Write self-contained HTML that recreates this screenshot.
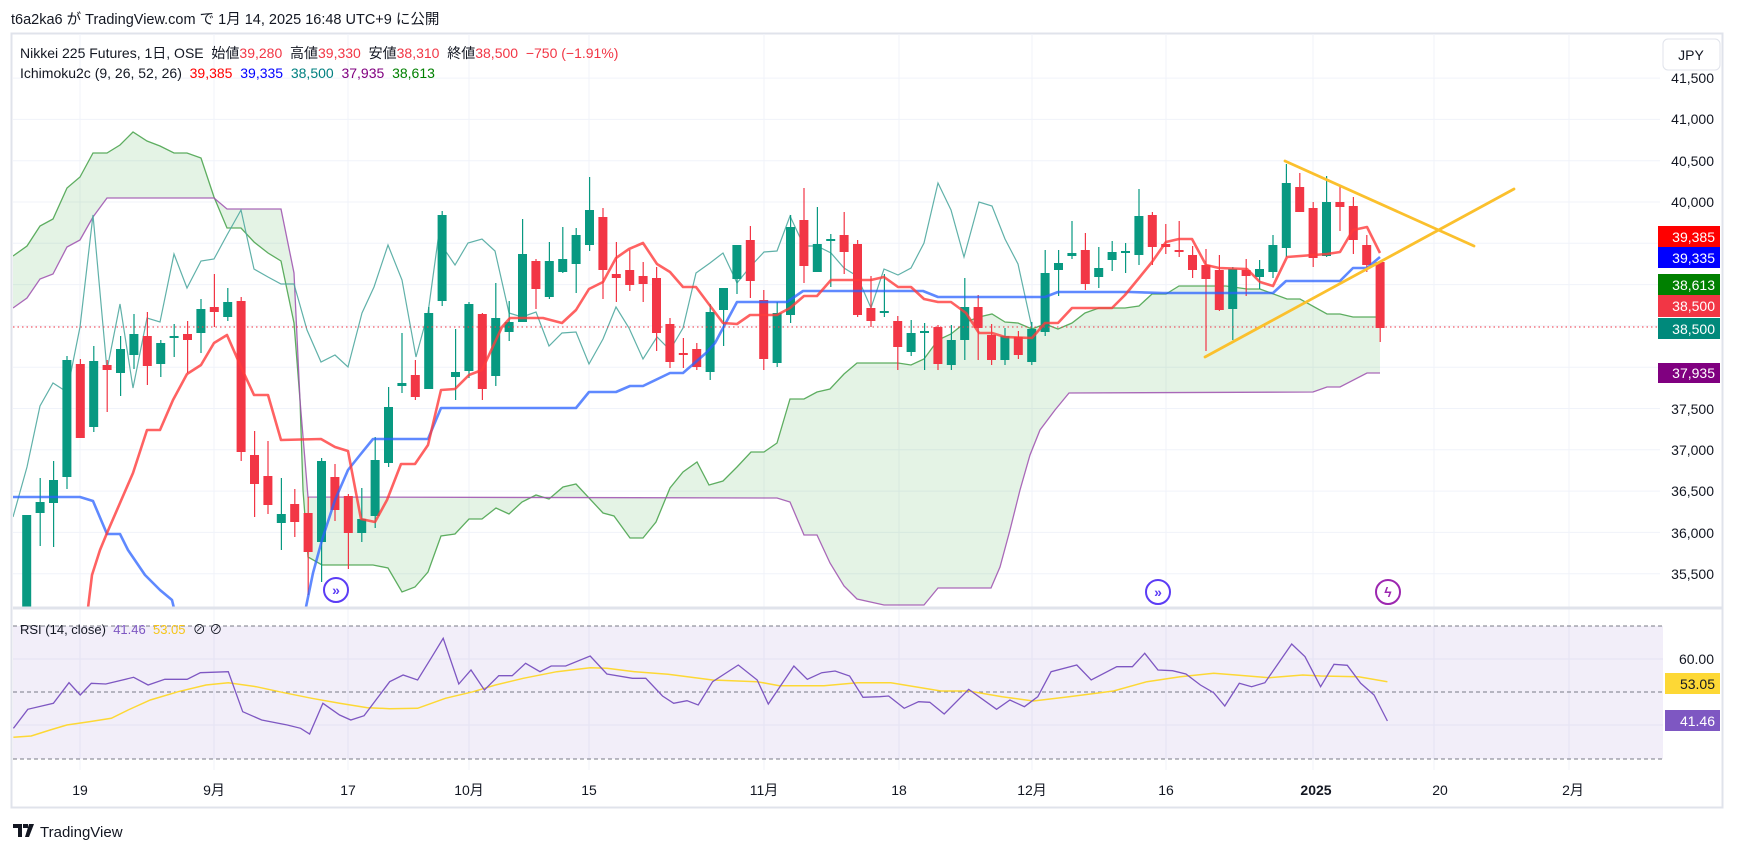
<!DOCTYPE html>
<html><head><meta charset="utf-8">
<style>
html,body{margin:0;padding:0;background:#fff;}
body{width:1737px;height:852px;overflow:hidden;position:relative;font-family:"Liberation Sans","Noto Sans CJK JP",sans-serif;}
svg text{font-family:"Liberation Sans","Noto Sans CJK JP",sans-serif;}
</style></head>
<body>
<svg id="s" width="1737" height="852" viewBox="0 0 1737 852" xmlns="http://www.w3.org/2000/svg">
<defs>
<clipPath id="mc"><rect x="13" y="34" width="1647" height="573"/></clipPath>
<clipPath id="rc"><rect x="13" y="609" width="1650" height="197"/></clipPath>
</defs>
<rect x="0" y="0" width="1737" height="852" fill="#fff"/>
<text x="11" y="24" font-size="14.5" fill="#131722">t6a2ka6 が TradingView.com で 1月 14, 2025 16:48 UTC+9 に公開</text>
<rect x="11.5" y="33.5" width="1711" height="774" fill="none" stroke="#e0e3eb" stroke-width="2"/>
<g id="grid" stroke="#f0f3fa" stroke-width="1"></g>
<rect x="13" y="626" width="1650" height="133" fill="#7e57c2" fill-opacity="0.1"/>
<g id="main" clip-path="url(#mc)"></g>
<line x1="13" y1="608" x2="1722" y2="608" stroke="#e0e3eb" stroke-width="3"/>
<g id="rsi" clip-path="url(#rc)"></g>
<text x="20" y="58" font-size="14" fill="#131722">Nikkei 225 Futures, 1日, OSE&#160;&#160;始値<tspan fill="#f23645">39,280</tspan>&#160;&#160;高値<tspan fill="#f23645">39,330</tspan>&#160;&#160;安値<tspan fill="#f23645">38,310</tspan>&#160;&#160;終値<tspan fill="#f23645">38,500&#160;&#160;−750 (−1.91%)</tspan></text>
<text x="20" y="78" font-size="14" fill="#131722">Ichimoku2c (9, 26, 52, 26)&#160;&#160;<tspan fill="#ff0000">39,385</tspan>&#160;&#160;<tspan fill="#0000ff">39,335</tspan>&#160;&#160;<tspan fill="#008080">38,500</tspan>&#160;&#160;<tspan fill="#800080">37,935</tspan>&#160;&#160;<tspan fill="#008000">38,613</tspan></text>
<text x="20" y="634" font-size="13" fill="#131722">RSI (14, close)&#160;&#160;<tspan fill="#7e57c2">41.46</tspan>&#160;&#160;<tspan fill="#f5c518">53.05</tspan>&#160;&#160;⊘&#160;⊘</text>
<g font-size="14" fill="#131722" text-anchor="end">
<text x="1714" y="83">41,500</text>
<text x="1714" y="124">41,000</text>
<text x="1714" y="166">40,500</text>
<text x="1714" y="207">40,000</text>
<text x="1714" y="373">38,000</text>
<text x="1714" y="414">37,500</text>
<text x="1714" y="455">37,000</text>
<text x="1714" y="496">36,500</text>
<text x="1714" y="538">36,000</text>
<text x="1714" y="579">35,500</text>
<text x="1714" y="664">60.00</text>
</g>
<rect x="1663" y="39" width="57" height="31" rx="5" fill="#fff" stroke="#e0e3eb"/>
<text x="1691" y="60" font-size="14" fill="#131722" text-anchor="middle">JPY</text>
<g font-size="14" fill="#fff" text-anchor="end">
<rect x="1658" y="226" width="62" height="21" fill="#ff0000"/><text x="1715" y="242">39,385</text>
<rect x="1658" y="247" width="62" height="21" fill="#0000ff"/><text x="1715" y="263">39,335</text>
<rect x="1658" y="274" width="62" height="21" fill="#008000"/><text x="1715" y="290">38,613</text>
<rect x="1658" y="295" width="62" height="22" fill="#f23645"/><text x="1715" y="311">38,500</text>
<rect x="1658" y="318" width="62" height="21" fill="#00897b"/><text x="1715" y="334">38,500</text>
<rect x="1658" y="363" width="62" height="20" fill="#800080"/><text x="1715" y="378">37,935</text>
<rect x="1665" y="673" width="55" height="21" fill="#fdd835"/><text x="1715" y="689" fill="#131722">53.05</text>
<rect x="1665" y="710" width="55" height="21" fill="#7e57c2"/><text x="1715" y="726">41.46</text>
</g>
<g font-size="14" fill="#131722" text-anchor="middle">
<text x="80" y="795">19</text><text x="214" y="795">9月</text><text x="348" y="795">17</text><text x="469" y="795">10月</text><text x="589" y="795">15</text><text x="764" y="795">11月</text><text x="899" y="795">18</text><text x="1032" y="795">12月</text><text x="1166" y="795">16</text><text x="1316" y="795" font-weight="bold">2025</text><text x="1440" y="795">20</text><text x="1573" y="795">2月</text>
</g>
<g transform="translate(13,824)">
<path d="M0 0h9v13h-4v-9h-5z M10 0h5v4h-5z M16 0h5l-5 13h-4z" fill="#131722"/>
</g>
<text x="40" y="837" font-size="15" fill="#131722">TradingView</text>
</svg>
<script>
(function(){
var NS="http://www.w3.org/2000/svg";
function el(p,t,a){var e=document.createElementNS(NS,t);for(var k in a)e.setAttribute(k,a[k]);p.appendChild(e);return e;}
var g=document.getElementById('grid'),m=document.getElementById('main'),r=document.getElementById('rsi');
function py(p){return 202+(40000-p)*0.0826;}
for(var p=35500;p<=41500;p+=500){var y=py(p);el(g,'line',{x1:13,x2:1660,y1:y,y2:y});}
[659,725].forEach(function(y){el(g,'line',{x1:13,x2:1663,y1:y,y2:y});});
[80,214,348,469,589,764,899,1032,1166,1313,1434,1569].forEach(function(x){el(g,'line',{x1:x,x2:x,y1:34,y2:770});});
function pts(a){return a.map(function(q){return q[0]+','+q[1];}).join(' ');}
var A=[[13,256],[27,246],[40,226],[53,219],[67,188],[80,177],[93,153],[107,153],[120,145],[133,132],[147,141],[160,146],[174,153],[187,153],[201,158],[214,197],[227,228],[241,228],[254,242],[268,253],[281,261],[294,323],[300,400],[303,490],[308,557],[322,565],[373,565],[388,568],[402,592],[415,587],[428,572],[441,536],[455,534],[469,519],[482,519],[496,508],[509,514],[522,502],[536,495],[549,499],[563,487],[576,484],[603,513],[614,516],[630,538],[643,538],[656,522],[670,488],[683,472],[697,462],[709,485],[723,481],[737,467],[751,452],[764,452],[777,443],[790,399],[804,399],[817,392],[830,389],[844,374],[857,363],[898,363],[911,365],[924,359],[938,340],[951,334],[966,322],[979,317],[992,314],[1005,322],[1018,323],[1032,329],[1045,324],[1058,329],[1072,323],[1085,313],[1099,308],[1125,308],[1139,306],[1152,294],[1166,294],[1179,286],[1226,286],[1247,289],[1260,289],[1287,299],[1300,299],[1327,314],[1340,314],[1353,317],[1380,317]];
var B=[[13,308],[27,298],[40,279],[53,274],[67,247],[80,240],[93,217],[107,198],[214,198],[227,209],[281,209],[294,273],[300,400],[308,497],[777,498],[790,502],[804,535],[817,535],[830,563],[844,586],[857,599],[884,605],[924,605],[938,588],[991,588],[1000,567],[1010,530],[1020,490],[1030,455],[1040,430],[1055,410],[1069,393],[1313,392],[1327,387],[1340,387],[1367,373],[1380,373]];
el(m,'polygon',{points:pts(A.concat(B.slice().reverse())),fill:'#4caf50','fill-opacity':'0.15',stroke:'none'});
el(m,'polyline',{points:pts(A),fill:'none',stroke:'#43a047','stroke-width':1.3,'stroke-opacity':0.85});
el(m,'polyline',{points:pts(B),fill:'none',stroke:'#9c4fae','stroke-width':1.3,'stroke-opacity':0.85});
var CH=[[13,517],[27,467],[40,406],[53,383],[67,392],[80,327],[93,215],[107,370],[120,304],[133,388],[147,318],[160,322],[174,254],[187,288],[201,261],[214,259],[227,235],[241,210],[254,269],[268,277],[281,284],[294,284],[307,330],[321,362],[335,355],[348,367],[362,313],[374,287],[388,245],[402,280],[416,357],[428,313],[438,240],[455,265],[468,243],[482,239],[495,251],[509,313],[522,317],[536,312],[549,346],[562,333],[576,332],[589,364],[603,339],[616,307],[629,328],[643,359],[657,337],[670,350],[683,328],[696,273],[710,263],[723,253],[737,283],[750,267],[764,252],[777,251],[790,216],[804,246],[817,246],[831,253],[844,268],[857,276],[871,308],[884,269],[898,275],[911,268],[924,243],[938,183],[951,210],[964,257],[979,202],[992,206],[1005,239],[1018,264],[1032,328]];
el(m,'polyline',{points:pts(CH),fill:'none',stroke:'#4fa8a0','stroke-width':1.2,'stroke-opacity':0.9});
var D=[[640,515,515,640],[513,502,478,546],[503,480,461,547],[477,360,356,489],[364,438,359,438],[427,361,346,432],[365,370,360,412],[373,349,336,396],[355,334,314,369],[336,366,312,385],[364,343,340,377],[337,336,324,357],[334,340,321,373],[333,309,299,353],[307,312,274,327],[317,302,288,321],[301,452,297,461],[455,484,431,517],[476,505,441,514],[523,514,478,550],[504,522,489,537],[513,552,497,595],[542,461,458,582],[477,510,464,521],[496,533,494,569],[533,519,488,542],[516,460,437,528],[463,407,387,467],[386,383,333,393],[375,397,360,400],[389,313,307,389],[301,215,211,306],[377,372,329,400],[371,304,302,378],[314,389,313,400],[376,318,283,386],[332,322,301,341],[322,254,219,322],[261,289,259,309],[297,261,242,299],[272,259,227,273],[264,235,228,293],[245,210,177,251],[217,270,208,299],[274,278,242,302],[270,285,250,291],[276,284,262,302],[278,333,267,351],[324,362,318,368],[353,354,338,368],[349,367,343,370],[372,312,304,380],[310,288,288,346],[279,245,245,294],[240,281,226,298],[300,359,290,370],[363,313,302,367],[315,227,215,323],[220,266,188,283],[272,244,207,272],[240,239,234,287],[235,252,212,274],[244,315,240,317],[308,321,276,327],[312,311,274,317],[321,347,316,370],[352,333,320,356],[333,331,323,370],[327,364,325,370],[365,340,325,370],[340,307,278,360],[307,328,295,360],[335,360,324,365],[360,336,328,365],[337,355,331,359],[362,329,322,365],[332,273,250,336],[270,263,250,296],[256,253,221,259],[250,284,233,290],[277,268,247,288],[260,252,241,271],[252,251,243,273],[255,216,189,265],[215,247,212,265],[244,247,224,254],[250,252,221,257],[255,270,246,278],[265,279,249,351],[270,310,255,311],[309,269,267,340],[270,276,259,296],[277,269,260,289],[272,245,235,278],[248,183,164,257],[187,212,173,212],[208,258,202,267],[256,202,176,257],[202,207,185,231],[206,240,197,254],[245,265,235,272],[262,328,262,342]];
var cg=el(m,'g',{});
D.forEach(function(c,i){var x=26.7+13.4*i;var up=c[1]<=c[0];var col=up?'#089981':'#f23645';
var top=Math.min(c[0],c[1]),h=Math.max(2,Math.abs(c[0]-c[1]));
el(cg,'rect',{x:x-0.5,y:c[2],width:1.2,height:c[3]-c[2],fill:col});
el(cg,'rect',{x:x-4.5,y:top,width:9,height:h,fill:col});});
var TK=[[88,608],[92,575],[100,550],[107,533],[120,503],[133,473],[147,430],[160,430],[173,400],[187,374],[201,365],[214,343],[227,335],[241,367],[254,395],[268,395],[281,440],[321,439],[335,447],[348,451],[361,519],[375,522],[387,500],[401,464],[415,464],[428,445],[441,390],[455,389],[469,375],[482,370],[502,327],[510,318],[543,318],[562,323],[576,310],[589,289],[603,282],[616,258],[629,249],[643,243],[657,264],[670,272],[683,287],[696,287],[723,323],[737,324],[750,315],[777,315],[790,308],[804,296],[817,296],[831,280],[871,280],[884,277],[898,287],[911,287],[924,299],[938,302],[951,302],[966,313],[979,333],[992,333],[1005,337],[1032,338],[1045,323],[1058,323],[1072,308],[1112,308],[1125,295],[1139,278],[1152,262],[1166,242],[1179,239],[1192,239],[1206,265],[1219,268],[1247,269],[1260,282],[1273,286],[1287,257],[1327,254],[1340,252],[1353,230],[1367,227],[1380,253]];
var KJ=[[13,497],[80,497],[93,501],[107,534],[120,534],[128,550],[145,575],[160,590],[172,600],[178,625],[300,625],[306,607],[313,573],[322,540],[335,500],[348,470],[360,455],[373,439],[428,439],[441,408],[576,408],[589,392],[616,392],[630,386],[643,386],[670,373],[683,373],[706,353],[715,343],[737,302],[787,302],[803,291],[923,291],[938,297],[1045,297],[1058,292],[1130,292],[1163,293],[1273,293],[1286,281],[1340,281],[1353,268],[1367,268],[1380,257]];
el(m,'polyline',{points:pts(KJ),fill:'none',stroke:'#2962ff','stroke-width':2.6,'stroke-opacity':0.75,'stroke-linejoin':'round'});
el(m,'polyline',{points:pts(TK),fill:'none',stroke:'#ff3b3b','stroke-width':2.6,'stroke-opacity':0.8,'stroke-linejoin':'round'});
el(m,'line',{x1:13,x2:1660,y1:327,y2:327,stroke:'#f23645','stroke-width':1,'stroke-dasharray':'1.5,3'});
el(m,'line',{x1:1285,y1:161,x2:1474,y2:246,stroke:'#fbc02d','stroke-width':2.8,'stroke-linecap':'round'});
el(m,'line',{x1:1205,y1:357,x2:1514,y2:189,stroke:'#fbc02d','stroke-width':2.8,'stroke-linecap':'round'});
[[336,590,'#5b3cf5','»'],[1158,592,'#5b3cf5','»'],[1388,592,'#9c27b0','ϟ']].forEach(function(q){
el(m,'circle',{cx:q[0],cy:q[1],r:12,fill:'#fff',stroke:q[2],'stroke-width':2});
var t=el(m,'text',{x:q[0],y:q[1]+5,'font-size':14,fill:q[2],'text-anchor':'middle','font-weight':'bold'});t.textContent=q[3];});
[626,692,759].forEach(function(y){el(r,'line',{x1:13,x2:1663,y1:y,y2:y,stroke:'#787b86','stroke-width':1,'stroke-dasharray':'4,3'});});
function cv(a){return a.map(function(q){return [(q[0]*1.1135).toFixed(1),(q[1]/3+540).toFixed(1)];});}
var RS=[[12,565],[25,508],[48,490],[62,428],[72,465],[82,430],[95,432],[120,412],[133,435],[148,418],[168,418],[180,398],[205,395],[218,515],[235,540],[258,555],[270,565],[278,582],[290,490],[305,525],[315,540],[327,527],[350,425],[362,405],[375,420],[388,350],[398,295],[412,432],[423,390],[435,450],[448,407],[460,407],[472,370],[485,395],[495,378],[508,378],[530,348],[545,402],[568,415],[580,415],[595,468],[605,490],[617,482],[627,495],[640,425],[663,375],[680,420],[690,492],[713,378],[725,418],[738,398],[750,393],[763,408],[775,472],[790,470],[798,468],[812,505],[825,485],[835,487],[848,522],[870,448],[895,508],[907,480],[920,500],[932,470],[944,395],[967,375],[980,420],[1003,380],[1017,380],[1028,340],[1040,390],[1053,392],[1065,402],[1078,435],[1090,458],[1100,498],[1113,430],[1124,440],[1136,428],[1160,312],[1172,350],[1186,440],[1198,373],[1210,376],[1222,430],[1234,465],[1246,543]];
var MA=[[12,592],[28,588],[45,570],[60,555],[80,545],[100,535],[115,510],[135,480],[160,455],[185,435],[205,428],[230,440],[255,458],[280,475],[305,490],[330,503],[350,506],[375,505],[400,475],[425,455],[445,435],[470,415],[500,395],[530,383],[545,385],[570,395],[600,403],[640,420],[680,425],[700,437],[740,437],[770,428],[800,428],[845,453],[870,453],[900,470],[928,483],[960,470],[1000,453],[1030,425],[1060,410],[1090,400],[1110,405],[1140,413],[1170,405],[1186,408],[1220,410],[1246,425]];
el(r,'polyline',{points:pts(cv(MA)),fill:'none',stroke:'#fdd835','stroke-width':1.5});
el(r,'polyline',{points:pts(cv(RS)),fill:'none',stroke:'#7e57c2','stroke-width':1.3});
})();
</script>
</body></html>
